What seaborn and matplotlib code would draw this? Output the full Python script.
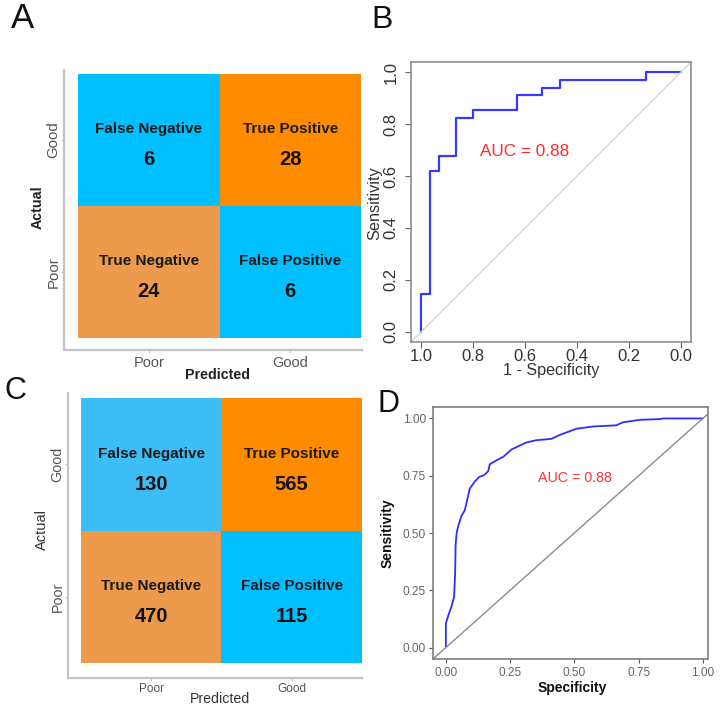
import numpy as np
import pandas as pd
import matplotlib
matplotlib.use("Agg")
import matplotlib.pyplot as plt
from matplotlib.colors import ListedColormap
import seaborn as sns

# ==========================================
# DATA
# ==========================================
actual_levels = ["Good", "Poor"]
predicted_levels = ["Poor", "Good"]
cell_names = [["False Negative", "True Positive"],
              ["True Negative", "False Positive"]]

counts_a = [[6, 28], [24, 6]]
counts_c = [[130, 565], [470, 115]]

# ROC panel B (pROC style, specificity reversed)
b_spec = [1.0, 1.0, 0.967, 0.967, 0.933, 0.933, 0.867, 0.867, 0.8, 0.8,
          0.633, 0.633, 0.533, 0.533, 0.467, 0.467, 0.133, 0.133, 0.0]
b_sens = [0.0, 0.147, 0.147, 0.618, 0.618, 0.676, 0.676, 0.824, 0.824, 0.853,
          0.853, 0.912, 0.912, 0.941, 0.941, 0.971, 0.971, 1.0, 1.0]
auc_b = 0.88

# ROC panel D (ggplot style)
d_spec = [0.0, 0.0, 0.009, 0.022, 0.032, 0.036, 0.038, 0.042, 0.048, 0.061,
          0.074, 0.080, 0.093, 0.113, 0.130, 0.148, 0.165, 0.171, 0.197, 0.223,
          0.256, 0.313, 0.352, 0.411, 0.443, 0.508, 0.573, 0.663, 0.689, 0.754,
          0.832, 0.845, 1.0]
d_sens = [0.0, 0.105, 0.138, 0.18, 0.221, 0.32, 0.45, 0.50, 0.53, 0.575,
          0.60, 0.63, 0.694, 0.725, 0.745, 0.752, 0.77, 0.80, 0.817, 0.832,
          0.865, 0.895, 0.905, 0.911, 0.928, 0.955, 0.965, 0.970, 0.983, 0.994,
          0.997, 1.0, 1.0]
auc_d = 0.88

colors_a = {"False Negative": "#00BFFF", "True Positive": "#FF8C00",
            "True Negative": "#EE9A4D", "False Positive": "#00BFFF"}
colors_c = {"False Negative": "#3DBDF5", "True Positive": "#FF8C00",
            "True Negative": "#EE9A4D", "False Positive": "#00BFFF"}

# ==========================================
# FIGURE SETUP
# ==========================================
sns.set_theme(style="white")
plt.rcParams["font.family"] = ["Liberation Sans", "DejaVu Sans"]

W, H = 720, 708
fig = plt.figure(figsize=(W / 100, H / 100), dpi=100)


def px_axes(x0, y0, x1, y1):
    return fig.add_axes([x0 / W, 1 - y1 / H, (x1 - x0) / W, (y1 - y0) / H])


def px_text(px, py, s, **kw):
    fig.text(px / W, 1 - py / H, s, **kw)


def confusion_panel(box, counts, palette, xlim, ylim, xtick_size, ytick_size,
                    tile_gap, xpad, ypad):
    ax = px_axes(*box)
    codes = np.arange(4).reshape(2, 2)
    cmap = ListedColormap([palette[n] for row in cell_names for n in row])
    df = pd.DataFrame(codes, index=actual_levels, columns=predicted_levels)
    sns.heatmap(df, cmap=cmap, vmin=-0.5, vmax=3.5, cbar=False, ax=ax,
                linewidths=0)
    for i in range(2):
        for j in range(2):
            ax.text(j + 0.5, i + 0.5 - tile_gap[0], cell_names[i][j],
                    ha="center", va="center", fontsize=11, fontweight="bold",
                    color="#1a1a1a")
            ax.text(j + 0.5, i + 0.5 + tile_gap[1], str(counts[i][j]),
                    ha="center", va="center", fontsize=14.5, fontweight="bold",
                    color="#111111")
    ax.set_xlim(*xlim)
    ax.set_ylim(*ylim)
    for side in ["top", "right"]:
        ax.spines[side].set_visible(False)
    for side in ["left", "bottom"]:
        ax.spines[side].set_visible(True)
        ax.spines[side].set_color("#c4c4c4")
        ax.spines[side].set_linewidth(1.6)
    ax.set_xlabel("")
    ax.set_ylabel("")
    ax.tick_params(bottom=True, left=True, length=2, width=0.8,
                   color="#c4c4c4", labelcolor="#555555")
    ax.tick_params(axis="x", labelsize=xtick_size, pad=xpad, rotation=0)
    ax.tick_params(axis="y", labelsize=ytick_size, pad=ypad)
    for t in ax.get_yticklabels():
        t.set_rotation(90)
        t.set_va("center")
    return ax


# ==========================================
# PANEL A
# ==========================================
confusion_panel((64, 70, 362, 350), counts_a, colors_a,
                (-0.1, 2.007), (2.09, -0.03), 10.5, 10.8, (0.083, 0.15),
                2.5, 0.5)
px_text(217, 375, "Predicted", ha="center", va="center", fontsize=10.3,
        fontweight="bold", color="#222222")
px_text(38, 207, "Actual", ha="center", va="center", fontsize=10.3,
        fontweight="bold", rotation=90, color="#222222")

# ==========================================
# PANEL C
# ==========================================
confusion_panel((68, 393, 362, 678), counts_c, colors_c,
                (-0.0925, 2.0), (2.113, -0.038), 8.5, 10.3, (0.078, 0.15),
                1.5, 0.5)
px_text(220, 699, "Predicted", ha="center", va="center", fontsize=10.2,
        color="#333333")
px_text(42, 530, "Actual", ha="center", va="center", fontsize=10.5,
        rotation=90, color="#333333")

# ==========================================
# PANEL B  (base-R style ROC)
# ==========================================
ax_b = px_axes(411, 62, 691, 342)
sns.lineplot(x=b_spec, y=b_sens, sort=False, estimator=None, color="#3838FF",
             linewidth=1.6, ax=ax_b)
ax_b.axline((1, 0), (0, 1), color="#d6d6d6", linewidth=1)
ax_b.set_xlim(1.04, -0.04)
ax_b.set_ylim(-0.04, 1.04)
ticks_b = [0.0, 0.2, 0.4, 0.6, 0.8, 1.0]
ax_b.set_xticks(ticks_b)
ax_b.set_xticklabels([f"{t:.1f}" for t in ticks_b])
ax_b.set_yticks(ticks_b)
ax_b.set_yticklabels([f"{t:.1f}" for t in ticks_b], rotation=90, va="center")
ax_b.tick_params(bottom=True, left=True, length=4, width=0.8, color="#666666",
                 labelcolor="#333333", labelsize=12)
ax_b.tick_params(axis="x", pad=1)
ax_b.tick_params(axis="y", pad=5)
for s in ax_b.spines.values():
    s.set_color("#8c8c8c")
    s.set_linewidth(1.2)
ax_b.text(0.6, 0.696, f"AUC = {auc_b:.2f}", color="#FF2A2A", ha="center",
          va="center", fontsize=12.3)
px_text(551, 371, "1 - Specificity", ha="center", va="center", fontsize=11.6,
        color="#333333")
px_text(375, 203, "Sensitivity", ha="center", va="center", fontsize=11.7,
        rotation=90, color="#333333")

# ==========================================
# PANEL D  (ggplot style ROC)
# ==========================================
ax_d = px_axes(433, 407, 708, 659)
sns.lineplot(x=d_spec, y=d_sens, sort=False, estimator=None, color="#2E2EFF",
             linewidth=1.3, ax=ax_d)
ax_d.axline((0, 0), (1, 1), color="#8c8c8c", linewidth=1)
ax_d.set_xlim(-0.05, 1.02)
ax_d.set_ylim(-0.05, 1.05)
ticks_d = [0.0, 0.25, 0.5, 0.75, 1.0]
ax_d.set_xticks(ticks_d)
ax_d.set_xticklabels([f"{t:.2f}" for t in ticks_d])
ax_d.set_yticks(ticks_d)
ax_d.set_yticklabels([f"{t:.2f}" for t in ticks_d])
ax_d.tick_params(bottom=True, left=True, length=3, width=0.8, color="#555555",
                 labelcolor="#666666", labelsize=8.6)
ax_d.tick_params(axis="x", pad=3)
ax_d.tick_params(axis="y", pad=2)
for s in ax_d.spines.values():
    s.set_color("#7f7f7f")
    s.set_linewidth(1.2)
ax_d.text(0.502, 0.742, f"AUC = {auc_d:.2f}", color="#FF3030", ha="center",
          va="center", fontsize=10.3)
px_text(572, 688, "Specificity", ha="center", va="center", fontsize=10,
        fontweight="bold", color="#111111")
px_text(388, 533, "Sensitivity", ha="center", va="center", fontsize=10,
        fontweight="bold", rotation=90, color="#111111")

# ==========================================
# PANEL LETTERS
# ==========================================
px_text(11, 28, "A", fontsize=25, va="baseline", color="#111111")
px_text(371, 28, "B", fontsize=23, va="baseline", color="#111111")
px_text(4, 399, "C", fontsize=22, va="baseline", color="#111111")
px_text(377, 412, "D", fontsize=22, va="baseline", color="#111111")

fig.savefig("out.png", dpi=100)
